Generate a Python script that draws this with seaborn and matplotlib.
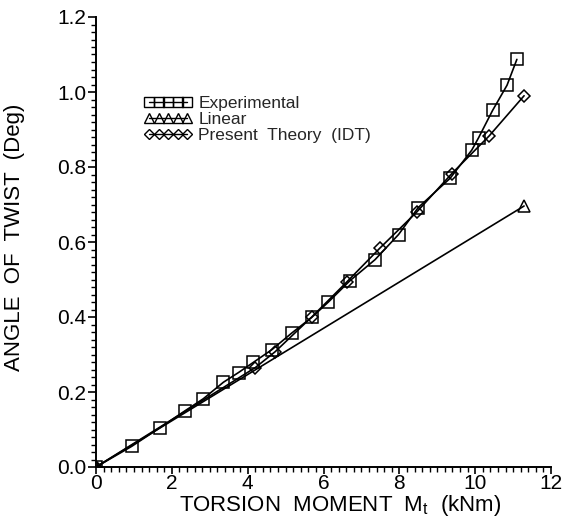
import matplotlib
matplotlib.use("Agg")
import matplotlib.pyplot as plt
from matplotlib.lines import Line2D
from matplotlib.ticker import MultipleLocator
import seaborn as sns
import pandas as pd

exp_x = [0, 0.94, 1.69, 2.35, 2.83, 3.36, 3.76, 4.15, 4.64, 5.16, 5.69, 6.13,
         6.70, 7.36, 7.98, 8.50, 9.34, 9.91, 10.09, 10.46, 10.84, 11.10]
exp_y = [0, 0.055, 0.105, 0.150, 0.182, 0.226, 0.252, 0.279, 0.313, 0.357, 0.399, 0.440,
         0.497, 0.553, 0.620, 0.692, 0.770, 0.845, 0.878, 0.951, 1.018, 1.087]

lin_x = [0, 11.29]
lin_y = [0, 0.696]

idt_x = [0, 4.20, 4.72, 5.69, 6.61, 7.49, 8.46, 9.38, 10.37, 11.29]
idt_y = [0, 0.265, 0.307, 0.400, 0.493, 0.584, 0.680, 0.782, 0.883, 0.990]

labels = ["Experimental", "Linear", "Present  Theory  (IDT)"]
x_ticks = [0, 2, 4, 6, 8, 10, 12]
y_ticks = [0.0, 0.2, 0.4, 0.6, 0.8, 1.0, 1.2]

sns.set_theme(style="ticks")
plt.rcParams['font.family'] = ['Liberation Sans', 'DejaVu Sans']

fig = plt.figure(figsize=(5.73, 5.29), dpi=100)
ax = fig.add_axes([96/573, 62/529, 455/573, 450/529])

series = [(exp_x, exp_y, 's', 8), (lin_x, lin_y, '^', 8), (idt_x, idt_y, 'D', 6)]
for (xs, ys, m, ms), lab in zip(series, labels):
    df = pd.DataFrame({"x": xs, "y": ys})
    sns.lineplot(data=df, x="x", y="y", ax=ax, color="black", linewidth=1.2,
                 marker=m, markersize=ms, markerfacecolor="none",
                 markeredgecolor="black", markeredgewidth=1.1,
                 estimator=None, sort=False, legend=False)

ax.set_xlim(0, 12)
ax.set_ylim(0, 1.2)
ax.set_xticks(x_ticks)
ax.set_yticks(y_ticks)
ax.set_xticklabels([str(v) for v in x_ticks])
ax.set_yticklabels([f"{v:.1f}" for v in y_ticks])
ax.xaxis.set_minor_locator(MultipleLocator(0.2))
ax.yaxis.set_minor_locator(MultipleLocator(0.02))
ax.tick_params(axis="both", which="major", direction="out", length=6, width=1.2,
               labelsize=15, pad=1, color="black", labelcolor="black")
ax.tick_params(axis="x", which="major", pad=0, length=5)
ax.tick_params(axis="both", which="minor", direction="out", length=3.5, width=1.0, color="black")
for s in ["left", "bottom"]:
    ax.spines[s].set_linewidth(1.4)
    ax.spines[s].set_color("black")
sns.despine(ax=ax)

ax.set_xlabel("TORSION  MOMENT  M$_\\mathregular{t}$  (kNm)", fontsize=16, color="black")
ax.xaxis.set_label_coords(0.536, -0.058)
ax.set_ylabel("ANGLE  OF  TWIST  (Deg)", fontsize=16, color="black")
ax.yaxis.set_label_coords(-0.155, 0.51)

handles = [
    Line2D([], [], color="black", lw=1, marker='s', markersize=6.5, mfc="none", mec="black"),
    Line2D([], [], color="black", lw=1, marker='^', markersize=6.5, mfc="none", mec="black"),
    Line2D([], [], color="black", lw=1, marker='D', markersize=5.5, mfc="none", mec="black"),
]
leg = ax.legend(handles, labels, loc="upper left", bbox_to_anchor=(0.086, 0.845),
                numpoints=5, handlelength=2.8, handletextpad=0.35, labelspacing=0.05,
                frameon=False, fontsize=12.5, borderpad=0)

fig.savefig("out.png", dpi=100)
